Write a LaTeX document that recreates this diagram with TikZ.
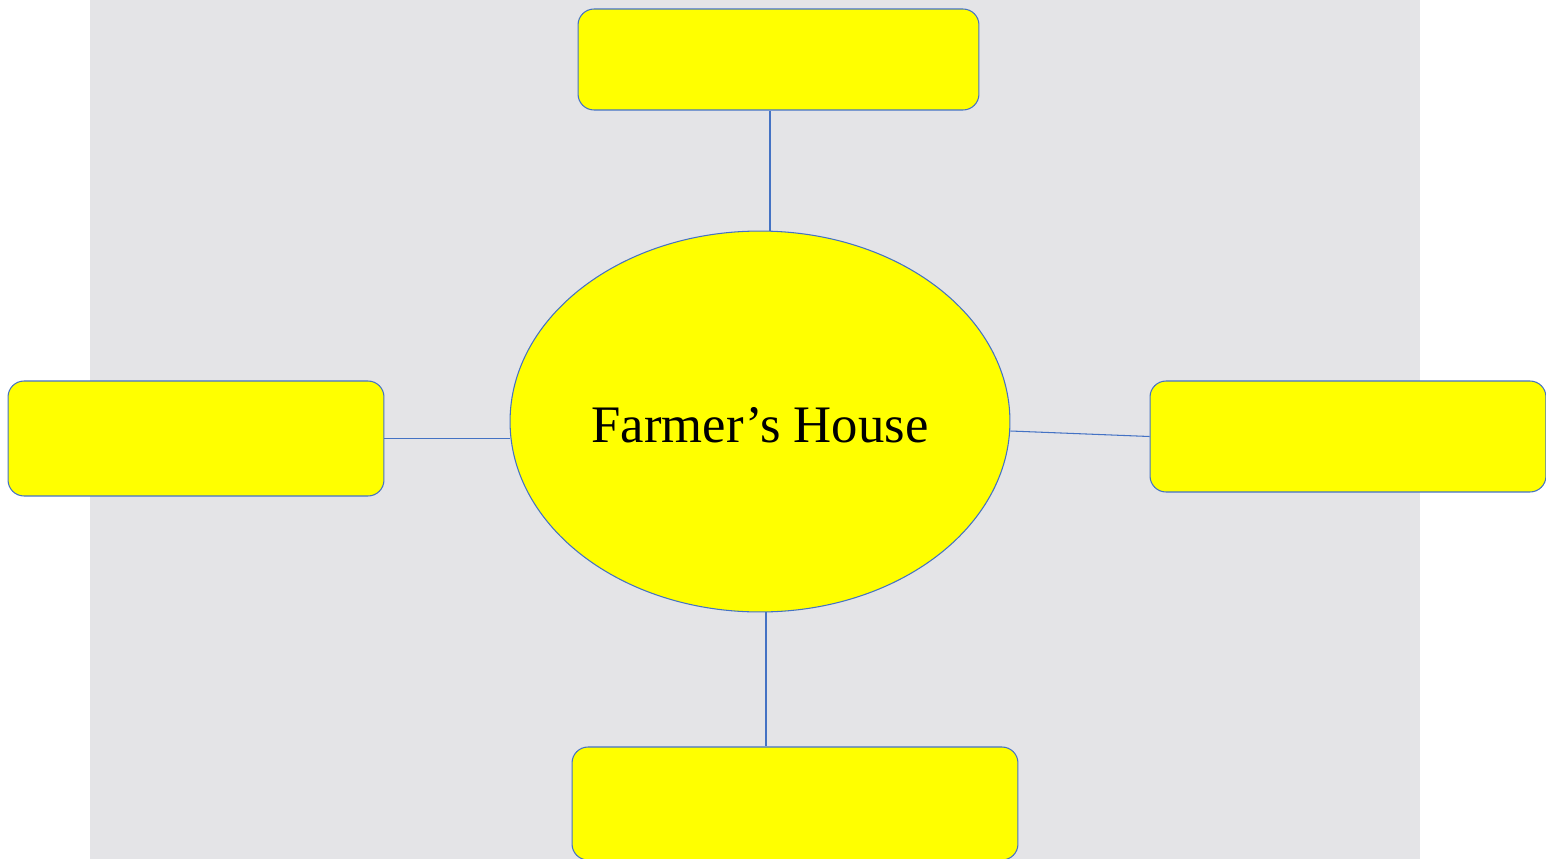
\documentclass[tikz,border=0pt]{standalone}
\usepackage{fontspec}
\setmainfont{Liberation Serif}
\usetikzlibrary{shapes.geometric,calc}
\definecolor{paperbg}{HTML}{E4E4E7}
\definecolor{boxyellow}{HTML}{FFFF00}
\definecolor{edgeblue}{HTML}{4472C4}

\begin{document}
\begin{tikzpicture}[
    x=0.02cm, y=-0.02cm,
    box/.style={draw=edgeblue, fill=boxyellow, line width=0.6pt, rounded corners=0.32cm, inner sep=0pt},
    hub/.style={ellipse, draw=edgeblue, fill=boxyellow, line width=0.6pt, inner sep=0pt, minimum width=10cm, minimum height=7.62cm, text height=23.6pt, text depth=0pt, font=\fontsize{30}{36}\selectfont},
    link/.style={edgeblue, line width=0.6pt},
]
    \useasboundingbox (0,0) rectangle (1546,859);

    % =====================================================================
    % BACKGROUND
    % =====================================================================
    \fill[paperbg] (90,0) rectangle (1420,859);

    % =====================================================================
    % CENTRE AND SURROUNDING BOXES
    % =====================================================================
    \node[hub] (house) at (760, 421.5) {Farmer’s House};

    \node[box, minimum width=8.02cm, minimum height=2.02cm] (topbox) at (778.5, 59.5) {};
    \node[box, minimum width=7.52cm, minimum height=2.3cm] (leftbox) at (196, 438.5) {};
    \node[box, minimum width=7.92cm, minimum height=2.22cm] (rightbox) at (1348, 436.5) {};
    \node[box, minimum width=8.92cm, minimum height=2.26cm] (bottombox) at (795, 803.5) {};

    % connectors
    \coordinate (topx) at (770, 0);
    \coordinate (botx) at (766, 0);
    \coordinate (righty) at (0, 431);
    \draw[link] (topbox.south -| topx) -- (house.north -| topx);
    \draw[link] (leftbox.east) -- (leftbox.east -| house.west);
    \draw[link] (house.east |- righty) -- (rightbox.west);
    \draw[link] (house.south -| botx) -- (bottombox.north -| botx);

\end{tikzpicture}
\end{document}
